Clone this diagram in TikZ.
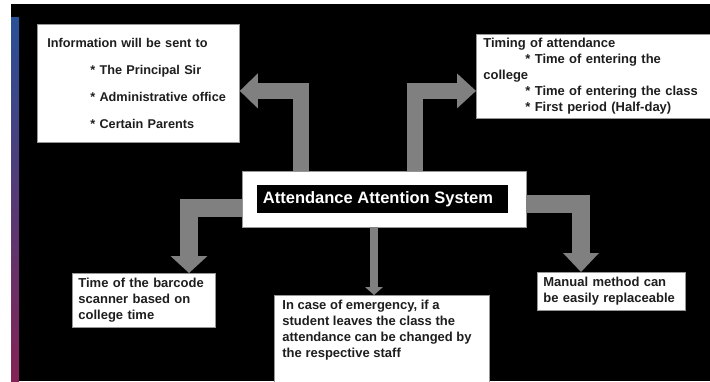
\documentclass[tikz,border=0pt]{standalone}
\usepackage{fontspec}
\setmainfont{Liberation Sans}
\usetikzlibrary{arrows.meta,calc}
\definecolor{arrowgray}{RGB}{128,128,128}
\definecolor{boxline}{RGB}{150,150,150}
\definecolor{txt}{RGB}{30,30,30}
\definecolor{bartop}{RGB}{40,80,150}
\definecolor{barmid}{RGB}{85,50,140}
\definecolor{barbot}{RGB}{130,35,85}
\begin{document}
\begin{tikzpicture}[x=1pt,y=-1pt,
  infobox/.style={draw=boxline, line width=0.8pt, fill=white, anchor=north west,
    align=left, text=txt, font=\bfseries\fontsize{13}{16}\selectfont, inner ysep=1pt},
  shaft/.style={draw=arrowgray, line join=miter},
]
% canvas and side bar
\useasboundingbox (0,0) rectangle (710,381);
\fill[white] (0,0) rectangle (710,381);
\fill[black] (11,4) rectangle (710,381);
\shade[top color=bartop, middle color=barmid, bottom color=barbot] (11,17) rectangle (19,381);

% text boxes
\node[infobox, minimum width=202pt, minimum height=118pt, text width=182pt, inner xsep=10pt,
  font=\bfseries\fontsize{12.7}{27}\selectfont] (info) at (37,24)
  {Information will be sent to\\\hspace*{43pt}* The Principal Sir\\\hspace*{43pt}* Administrative office\\\hspace*{43pt}* Certain Parents};

\node[infobox, minimum width=250pt, minimum height=84pt, text width=236pt, inner xsep=7pt] (timing) at (476,34)
  {Timing of attendance\\\hspace*{42pt}* Time of entering the\\college\\\hspace*{42pt}* Time of entering the class\\\hspace*{42pt}* First period (Half-day)};

\node[infobox, minimum width=143pt, minimum height=54pt, text width=131pt, inner xsep=6pt] (barcode) at (72,273)
  {Time of the barcode\\scanner based on\\college time};

\node[infobox, inner xsep=8pt, inner ysep=5pt] (emerg) at (274,295)
  {\parbox[t][88pt][t]{199pt}{\raggedright In case of emergency, if a\\student leaves the class the\\attendance can be changed by\\the respective staff}};

\node[infobox, minimum width=148pt, minimum height=38pt, text width=136pt, inner xsep=6pt] (manual) at (537,272)
  {Manual method can\\be easily replaceable};

% central title
\node[draw=boxline, fill=white, minimum width=284pt, minimum height=56pt] (main) at (384,199) {};
\node[fill=black, minimum width=251pt, minimum height=28pt, inner sep=0pt, text=white,
  font=\bfseries\fontsize{16.5}{18}\selectfont] (title) at (382.5,199) {Attendance Attention System\hspace*{9pt}};

% block arrows
\draw[shaft, line width=16.5pt, -{Triangle[width=35pt, length=18pt, line width=0pt]}]
  ($(main.north west)+(59,0)$) |- ($(info.east)+(0,7.5)$);
\draw[shaft, line width=16.5pt, -{Triangle[width=35pt, length=19pt, line width=0pt]}]
  ($(main.north west)+(173,0)$) |- ($(timing.west)+(0,14.5)$);
\draw[shaft, line width=18.5pt, -{Triangle[width=37pt, length=17pt, line width=0pt]}]
  ($(main.west)+(0,9)$) -| ($(barcode.north west)+(117,0)$);
\draw[shaft, line width=8pt, -{Triangle[width=18pt, length=8pt, line width=0pt]}]
  ($(main.south)+(-10,0)$) -- ($(emerg.north west)+(100,0)$);
\draw[shaft, line width=18pt, -{Triangle[width=36pt, length=19pt, line width=0pt]}]
  ($(main.east)+(0,5)$) -| ($(manual.north west)+(44,0)$);
\end{tikzpicture}
\end{document}
